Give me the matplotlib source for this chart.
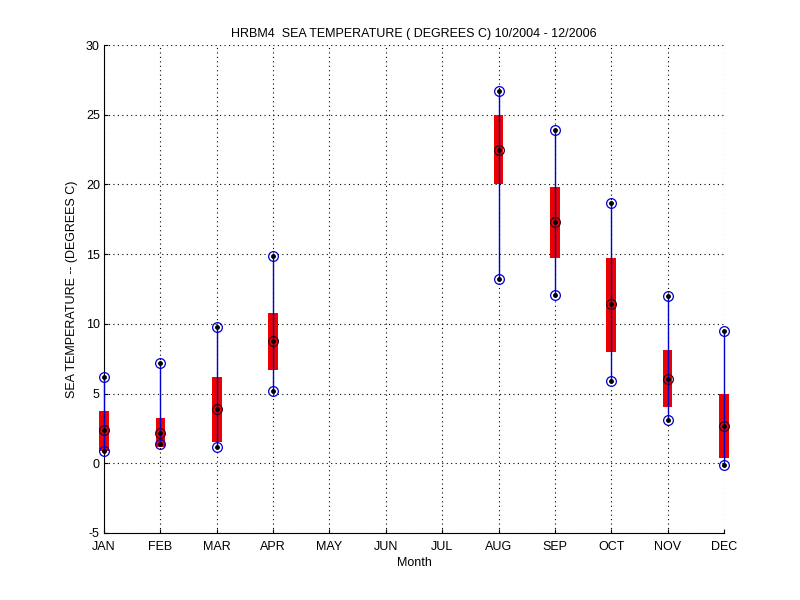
import numpy as np
import matplotlib
matplotlib.use("Agg")
import matplotlib.pyplot as plt

months = ["JAN", "FEB", "MAR", "APR", "MAY", "JUN", "JUL", "AUG", "SEP", "OCT", "NOV", "DEC"]
# monthly stats (nan = no data)
t_max = [6.2, 7.2, 9.8, 14.9, np.nan, np.nan, np.nan, 26.7, 23.9, 18.7, 12.0, 9.5]
t_q3 = [3.75, 3.25, 6.2, 10.8, np.nan, np.nan, np.nan, 25.0, 19.8, 14.7, 8.1, 4.95]
t_med = [2.4, 2.2, 3.9, 8.75, np.nan, np.nan, np.nan, 22.5, 17.3, 11.4, 6.05, 2.65]
t_q1 = [0.85, 1.15, 1.5, 6.7, np.nan, np.nan, np.nan, 20.05, 14.75, 8.0, 4.0, 0.35]
t_min = [0.9, 1.4, 1.15, 5.15, np.nan, np.nan, np.nan, 13.2, 12.05, 5.9, 3.1, -0.1]

x = np.arange(1, 13)
t_max = np.array(t_max)
t_q3 = np.array(t_q3)
t_med = np.array(t_med)
t_q1 = np.array(t_q1)
t_min = np.array(t_min)

plt.rcParams['font.family'] = ['Liberation Sans', 'DejaVu Sans']
plt.rcParams['axes.unicode_minus'] = False

fig = plt.figure(figsize=(8, 6), dpi=100)
ax = fig.add_axes([0.13, 0.1117, 0.775, 0.8133])

ok = ~np.isnan(t_med)
# red boxes
ax.bar(x[ok], t_q3[ok] - t_q1[ok], bottom=t_q1[ok], width=0.17, color='#ee0000',
       zorder=2, clip_on=False)
# whiskers
ax.vlines(x[ok], t_min[ok], t_max[ok], colors='#0000cc', linewidth=1, zorder=3, clip_on=False)
# markers
ax.plot(x[ok], t_max[ok], 'o', mfc='none', mec='#0000cc', ms=7, mew=0.9, zorder=4, clip_on=False)
ax.plot(x[ok], t_min[ok], 'o', mfc='none', mec='#0000cc', ms=7, mew=0.9, zorder=4, clip_on=False)
ax.plot(x[ok], t_med[ok], 'o', mfc='none', mec='#330022', ms=7, mew=0.9, zorder=4, clip_on=False)
for v in (t_max, t_min, t_med):
    ax.plot(x[ok], v[ok], '.', color='k', ms=5, zorder=5, clip_on=False)

ax.set_xlim(1, 12)
ax.set_ylim(-5, 30)
ax.set_xticks(x)
ax.set_xticklabels(months)
ax.set_yticks(np.arange(-5, 31, 5))
ax.tick_params(direction='in', labelsize=9, length=3)
ax.tick_params(axis='x', pad=6)
ax.tick_params(axis='y', pad=3)
ax.spines['top'].set_visible(False)
ax.spines['right'].set_visible(False)
ax.grid(True, linestyle=(0, (1, 3)), color='k', linewidth=0.8)
ax.set_axisbelow(True)

ax.set_title("HRBM4  SEA TEMPERATURE ( DEGREES C) 10/2004 - 12/2006", fontsize=9, pad=6)
ax.set_xlabel("Month", fontsize=9, labelpad=3)
ax.set_ylabel("SEA TEMPERATURE -- (DEGREES C)", fontsize=9, labelpad=6)

fig.savefig("out.png", dpi=100)
